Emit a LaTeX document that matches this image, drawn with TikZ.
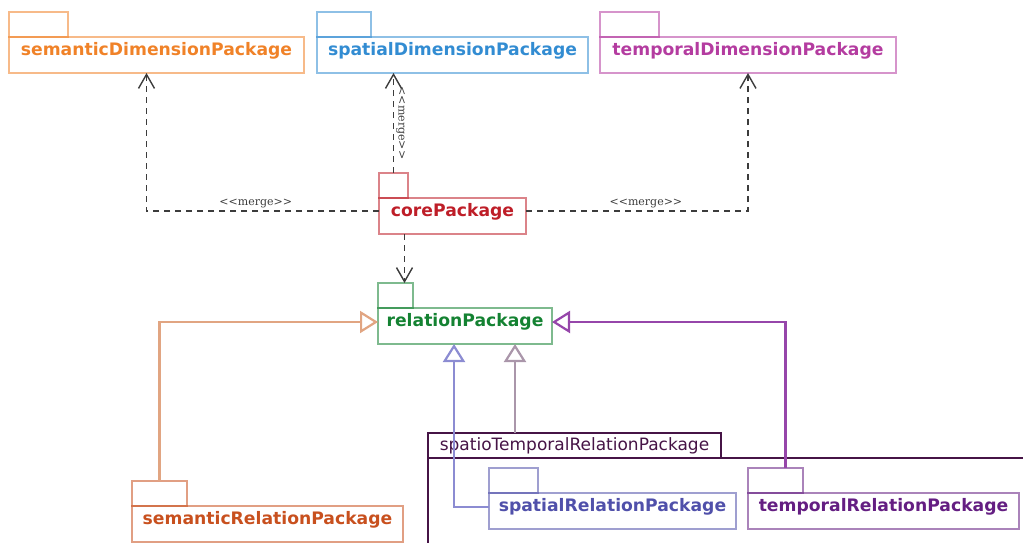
\documentclass[tikz,border=0pt]{standalone}
\usepackage{fontspec}
\usetikzlibrary{arrows.meta}
\newfontfamily\pkgfont{DejaVu Sans}
\newfontfamily\mergefont{DejaVu Serif}
\definecolor{semdimcol}{RGB}{240,130,40}
\definecolor{spatdimcol}{RGB}{50,140,210}
\definecolor{tempdimcol}{RGB}{180,60,160}
\definecolor{corecol}{RGB}{190,30,40}
\definecolor{relcol}{RGB}{20,130,50}
\definecolor{semrelcol}{RGB}{200,80,30}
\definecolor{spatrelcol}{RGB}{80,80,170}
\definecolor{temprelcol}{RGB}{100,30,130}
\definecolor{sptempcol}{RGB}{70,20,70}
\definecolor{mergecol}{RGB}{60,60,60}

\begin{document}
\begin{tikzpicture}[x=1pt,y=-1pt,
    tab/.style={draw, draw opacity=0.55, line width=2.5pt, inner sep=0pt, outer sep=0pt,
      minimum height=25pt, anchor=north west},
    body/.style={draw, draw opacity=0.55, line width=2.5pt, inner ysep=0pt, outer sep=0pt,
      text height=18pt, text depth=18pt, anchor=north west,
      font=\pkgfont\bfseries\fontsize{17.2}{20}\selectfont},
    merge/.style={mergecol, line width=1.4pt, dash pattern=on 6pt off 5pt,
      -{Straight Barb[length=14pt,width=16pt,line width=1.4pt]}},
    mergelabel/.style={font=\mergefont\fontsize{11}{12}\selectfont, text=mergecol, inner sep=2pt},
    inherit/.style={line width=2.2pt, -{Triangle[open,fill=white,length=18pt,width=22pt]}}]
    \def\paket#1#2#3#4#5#6{
    \node[tab, draw=#3, minimum width=#4] (#1-tab) at #2 {};
    \node[body, draw=#3, text=#3, minimum width=#5] (#1) at ([yshift=-25pt]#1-tab.north west) {#6};
    }

    \clip (0,0) rectangle (1023,542);

    \paket{semdim}{(9,12)}{semdimcol}{59pt}{295pt}{semanticDimensionPackage}
    \paket{spatdim}{(317,12)}{spatdimcol}{54pt}{271pt}{spatialDimensionPackage}
    \paket{tempdim}{(600,12)}{tempdimcol}{59pt}{296pt}{temporalDimensionPackage}
    \paket{core}{(379,173)}{corecol}{29pt}{147pt}{corePackage}
    \paket{relation}{(378,283)}{relcol}{35pt}{174pt}{relationPackage}
    \paket{semrel}{(132,481)}{semrelcol}{55pt}{271pt}{semanticRelationPackage}

    % spatio-temporal container
    \node[tab, draw=sptempcol, draw opacity=1, minimum width=293pt, text=sptempcol,
      font=\pkgfont\fontsize{17}{20}\selectfont] (sptemp-tab) at (428,433) {spatioTemporalRelationPackage};
    \node[tab, draw=sptempcol, draw opacity=1, minimum width=700pt, minimum height=150pt] (sptemp) at (sptemp-tab.south west) {};

    \paket{spatrel}{(489,468)}{spatrelcol}{49pt}{247pt}{spatialRelationPackage}
    \paket{temprel}{(748,468)}{temprelcol}{55pt}{271pt}{temporalRelationPackage}

    % merges
    \draw[merge] ([yshift=5pt]core.west) -| ([xshift=-10pt]semdim.south) node[mergelabel, pos=0.265, above] {<<merge>>};
    \draw[merge] ([yshift=5pt]core.east) -| (tempdim.south) node[mergelabel, pos=0.27, above] {<<merge>>};
    \draw[merge] (core-tab.north) -- (core-tab.north |- spatdim.south) node[mergelabel, midway, rotate=-90, anchor=south] {<<merge>>};
    \draw[merge] ([xshift=9pt]relation-tab.north |- core.south) -- ([xshift=9pt]relation-tab.north);

    % generalisations
    \draw[inherit, draw={rgb,255:red,225;green,165;blue,130}] (semrel-tab.north) |- ([yshift=4pt]relation.west);
    \draw[inherit, draw={rgb,255:red,150;green,70;blue,170}] ([xshift=10pt]temprel-tab.north) |- ([yshift=4pt]relation.east);
    \draw[inherit, draw={rgb,255:red,140;green,140;blue,210}] ([yshift=4pt]spatrel.west) -| ([xshift=-11pt]relation.south);
    \draw[inherit, draw={rgb,255:red,170;green,150;blue,170}] ([xshift=50pt]relation.south |- sptemp-tab.north) -- ([xshift=50pt]relation.south);
\end{tikzpicture}
\end{document}
